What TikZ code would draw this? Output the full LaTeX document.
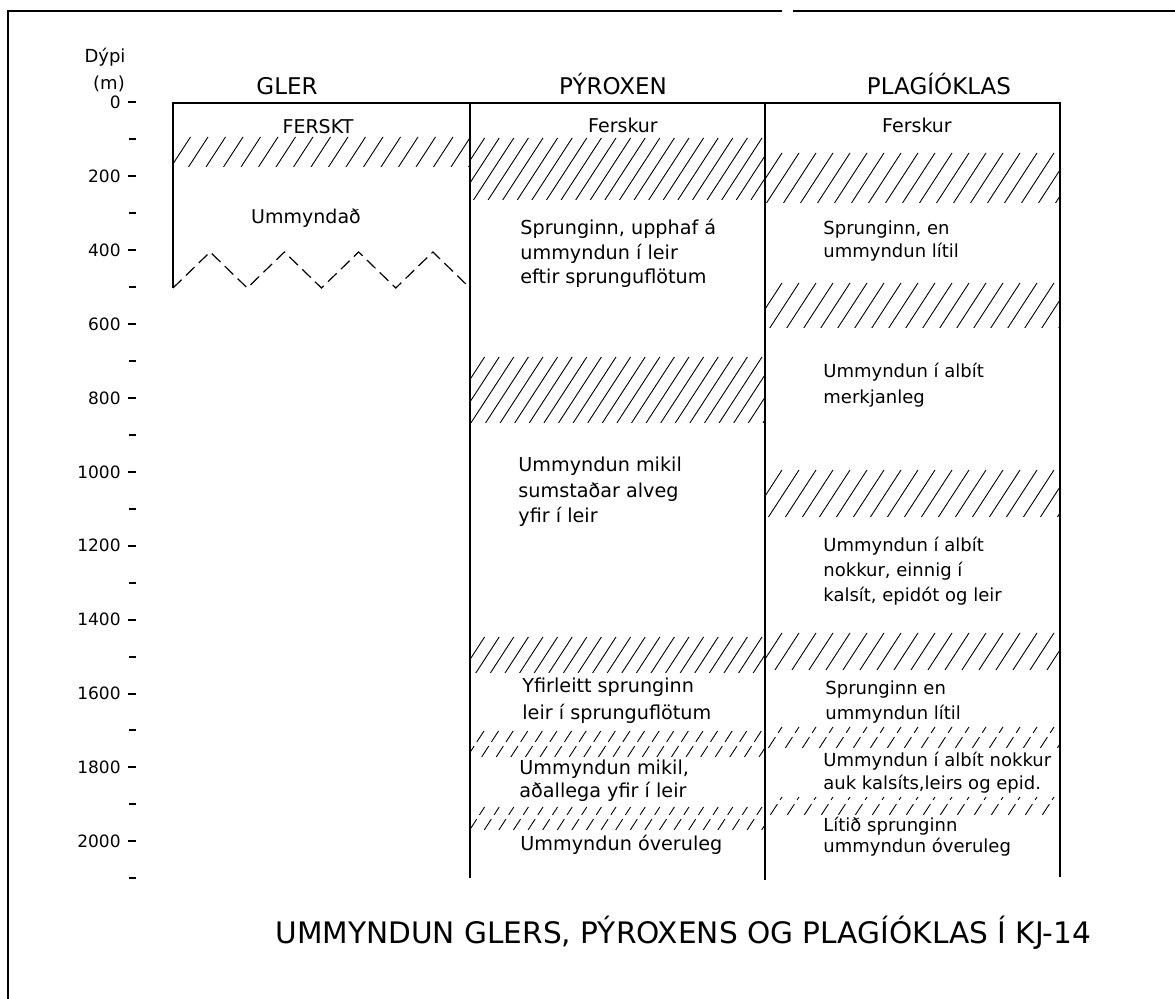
\documentclass[tikz,border=0pt]{standalone}
\usepackage{fontspec}
\setmainfont{DejaVu Sans}
\newcommand{\hatchband}[6]{%
  \begin{scope}
    \clip (#1,#3) rectangle (#2,#4);
    \pgfmathsetmacro{\hbH}{#4-#3}
    \pgfmathsetmacro{\hbS}{#1-0.65*\hbH-#5}
    \pgfmathsetmacro{\hbN}{\hbS+#5}
    \foreach \xx in {\hbS,\hbN,...,#2} \draw[#6] (\xx,#4) -- ++({0.65*\hbH},{-\hbH});
  \end{scope}}
\begin{document}
\begin{tikzpicture}[x=0.5pt,y=-0.5pt,
  frame/.style={line width=0.8pt},
  colline/.style={line width=1pt},
  hatchline/.style={line width=0.45pt},
  brokenhatch/.style={line width=0.45pt,dash pattern=on 6.5pt off 2.5pt},
  tickmark/.style={line width=1pt},
  zig/.style={line width=0.6pt,dash pattern=on 6pt off 3pt},
  ticklabel/.style={anchor=east,inner sep=0pt,font=\fontsize{8.5}{10}\selectfont},
  head/.style={anchor=base,inner sep=0pt,font=\fontsize{11.5}{13}\selectfont},
  sub/.style={anchor=base,inner sep=0pt,font=\fontsize{9.5}{11}\selectfont},
  body/.style={anchor=base west,inner sep=0pt,align=left},
  title/.style={anchor=base west,inner sep=0pt,font=\fontsize{14.8}{17}\selectfont},
]
\useasboundingbox (0,0) rectangle (1175,999);
% outer frame
\draw[frame] (8,999) -- (8,11) -- (782,11);
\draw[frame] (793,11) -- (1175,11);

% axis
\node[anchor=base,inner sep=0pt,font=\fontsize{9}{11}\selectfont] (dypi) at (105,63) {Dýpi};
\node[anchor=base,inner sep=0pt,font=\fontsize{9}{11}\selectfont] (unit) at (109,90) {(m)};
\foreach \d in {0,200,...,2000} {
  \node[ticklabel] (t\d) at (121,{102.5+0.3694*\d}) {\d};
  \draw[tickmark] (128,{102.5+0.3694*\d}) -- (136,{102.5+0.3694*\d});
}
\foreach \d in {100,300,...,2100} {
  \draw[tickmark] (129,{102.5+0.3694*\d}) -- (136,{102.5+0.3694*\d});
}

% hatch bands
\hatchband{173}{470}{137}{167}{17.5}{hatchline}
\hatchband{470}{765}{138}{200}{14.6}{hatchline}
\hatchband{470}{765}{357}{423}{14.6}{hatchline}
\hatchband{470}{765}{637}{673}{14.6}{hatchline}
\hatchband{470}{765}{730}{757}{14.6}{brokenhatch}
\hatchband{470}{765}{807}{830}{14.6}{brokenhatch}
\hatchband{765}{1060}{153}{203}{17}{hatchline}
\hatchband{765}{1060}{283}{328}{17}{hatchline}
\hatchband{765}{1060}{470}{517}{17}{hatchline}
\hatchband{765}{1060}{633}{670}{17}{hatchline}
\hatchband{765}{1060}{727}{748}{17}{brokenhatch}
\hatchband{765}{1060}{797}{815}{17}{brokenhatch}

% columns
\draw[colline] (173,288) -- (173,103) -- (1060,103) -- (1060,877);
\draw[colline] (470,103) -- (470,878);
\draw[colline] (765,103) -- (765,880);
% zigzag boundary in GLER
\draw[zig] (173,288) -- (210.1,252) -- (247.3,288) -- (284.4,252) -- (321.5,288)
  -- (358.6,252) -- (395.8,288) -- (432.9,252) -- (470,288);

% headers
\node[head] (hgler) at (287,95) {GLER};
\node[head] (hpyr) at (613,95) {PÝROXEN};
\node[head] (hplag) at (939,95) {PLAGÍÓKLAS};
\node[sub] (gfresh) at (318,134) {FERSKT};
\node[sub] (pfresh) at (623,133) {Ferskur};
\node[sub] (lfresh) at (917,133) {Ferskur};

% GLER
\node[anchor=base,inner sep=0pt,font=\fontsize{9.5}{11}\selectfont] (galt) at (306,224) {Ummyndað};

% PYROXEN texts (anchor = baseline of last line)
\node[body,font=\fontsize{9.6}{12.25}\selectfont] (p1) at (520,284) {Sprunginn, upphaf á\\ummyndun í leir\\eftir sprunguflötum};
\node[body,font=\fontsize{9.6}{12.75}\selectfont] (p2) at (518,523) {Ummyndun mikil\\sumstaðar alveg\\yfir í leir};
\node[body,font=\fontsize{9.6}{13.5}\selectfont] (p3) at (522,720) {Yfirleitt sprunginn\\leir í sprunguflötum};
\node[body,font=\fontsize{9.6}{11.5}\selectfont] (p4) at (519,798) {Ummyndun mikil,\\aðallega yfir í leir};
\node[body,font=\fontsize{9.6}{11.5}\selectfont] (p5) at (520,851) {Ummyndun óveruleg};

% PLAGIOKLAS texts
\node[body,font=\fontsize{9}{11.5}\selectfont] (l1) at (823,258) {Sprunginn, en\\ummyndun lítil};
\node[body,font=\fontsize{9}{13}\selectfont] (l2) at (823,404) {Ummyndun í albít\\merkjanleg};
\node[body,font=\fontsize{9}{12.5}\selectfont] (l3) at (823,602) {Ummyndun í albít\\nokkur, einnig í\\kalsít, epidót og leir};
\node[body,font=\fontsize{9}{12.5}\selectfont] (l4) at (825,720) {Sprunginn en\\ummyndun lítil};
\node[body,font=\fontsize{9}{11.5}\selectfont] (l5) at (823,790) {Ummyndun í albít nokkur\\auk kalsíts,leirs og epid.};
\node[body,font=\fontsize{9}{10.5}\selectfont] (l6) at (823,853) {Lítið sprunginn\\ummyndun óveruleg};

% title
\node[title] (ttl) at (275,944) {UMMYNDUN GLERS, PÝROXENS OG PLAGÍÓKLAS Í KJ-14};
\end{tikzpicture}
\end{document}
